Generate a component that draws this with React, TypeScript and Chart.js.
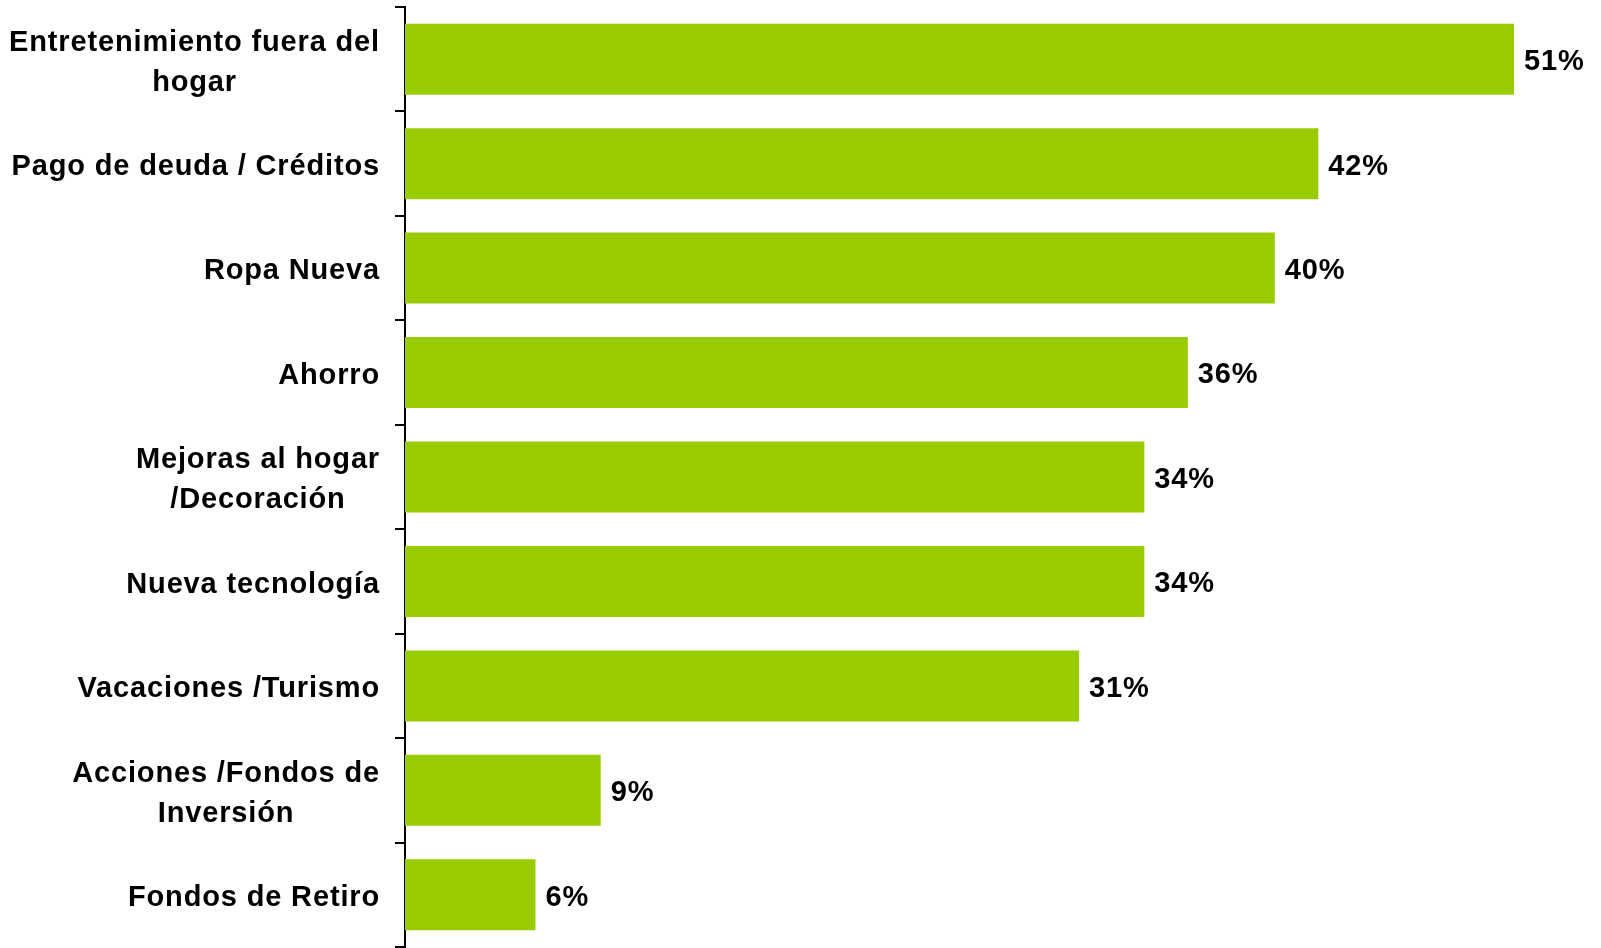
import React, { useEffect, useRef } from "react";
import { Chart, registerables } from "chart.js";

Chart.register(...registerables);

const categories: string[][] = [
  ["Entretenimiento fuera del", "hogar"],
  ["Pago de deuda / Créditos"],
  ["Ropa Nueva"],
  ["Ahorro"],
  ["Mejoras al hogar", "/Decoración"],
  ["Nueva tecnología"],
  ["Vacaciones /Turismo"],
  ["Acciones /Fondos de", "Inversión"],
  ["Fondos de Retiro"],
];
const values: number[] = [51, 42, 40, 36, 34, 34, 31, 9, 6];
const valueLabels: string[] = ["51%", "42%", "40%", "36%", "34%", "34%", "31%", "9%", "6%"];

const FONT = "\"Liberation Sans\", Arial, Helvetica, sans-serif";
const FONT_SIZE = 29;

const labelPlugin = {
  id: "customLabels",
  afterDraw(chart: any) {
    const ctx = chart.ctx;
    const y = chart.scales.y;
    const x = chart.scales.x;
    ctx.save();
    ctx.fillStyle = "#000";
    ctx.textBaseline = "alphabetic";
    ctx.font = `bold ${FONT_SIZE}px ${FONT}`;
    try { (ctx as any).letterSpacing = "0.85px"; } catch (e) {}
    const base = FONT_SIZE * 0.358 + 1;
    const rightEdge = 380;
    const lineH = 40;
    categories.forEach((lines, i) => {
      const cy = y.getPixelForValue(i);
      const w = Math.max(...lines.map((l) => ctx.measureText(l).width));
      const cx = rightEdge - w / 2;
      ctx.textAlign = "center";
      const n = lines.length;
      lines.forEach((l, j) => {
        ctx.fillText(l, cx, cy + (j - (n - 1) / 2) * lineH + base);
      });
    });
    ctx.textAlign = "left";
    values.forEach((v, i) => {
      const cy = y.getPixelForValue(i);
      ctx.fillText(valueLabels[i], x.getPixelForValue(v) + 10, cy + base - 0.5);
    });
    ctx.restore();
  },
};

export default function App() {
  const ref = useRef<HTMLCanvasElement | null>(null);
  useEffect(() => {
    if (!ref.current) return;
    const chart = new Chart(ref.current, {
      type: "bar",
      data: {
        labels: categories.map((c) => c.join(" ")),
        datasets: [
          {
            data: values,
            backgroundColor: "#99CC00",
            borderWidth: 0,
            barPercentage: 0.68,
            categoryPercentage: 1,
          },
        ],
      },
      options: {
        indexAxis: "y",
        responsive: false,
        animation: false,
        maintainAspectRatio: false,
        layout: { padding: { top: 7, bottom: 1, left: 0, right: 0 } },
        plugins: {
          legend: { display: false },
          tooltip: { enabled: false },
        },
        scales: {
          x: { display: false, min: 0, max: 55 },
          y: {
            grid: {
              offset: true,
              drawOnChartArea: false,
              drawTicks: true,
              tickLength: 10,
              color: "#000",
              lineWidth: 2,
            },
            border: { display: true, color: "#000", width: 2 },
            ticks: { display: false },
            afterFit: (scale: any) => {
              scale.width = 405;
            },
          },
        },
      },
      plugins: [labelPlugin],
    });
    return () => chart.destroy();
  }, []);
  return (
    <div style={{ position: "absolute", left: 0, top: 0, width: 1601, height: 948, background: "#fff" }}>
      <canvas ref={ref} width={1601} height={948} style={{ display: "block" }} />
    </div>
  );
}
